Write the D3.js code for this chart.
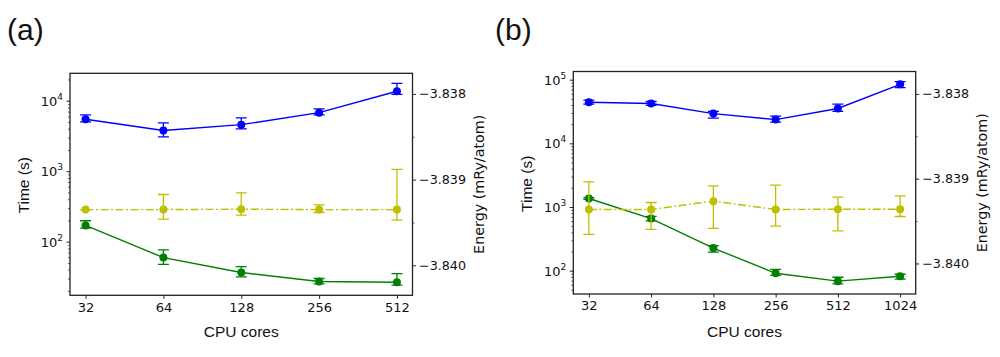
<!DOCTYPE html>
<html>
<head>
<meta charset="utf-8">
<script src="https://cdn.jsdelivr.net/npm/d3@7"></script>
<style>
html,body{margin:0;padding:0;background:#fff;}
svg{display:block;}
</style>
</head>
<body>
<svg id="chart" width="1000" height="357"></svg>
<script>
// ---------- data: panel (a) ----------
const coresA = [32, 64, 128, 256, 512];
const blueA = [5460, 3770, 4570, 6770, 13600];
const blueLowA = [5000, 3060, 3980, 6290, 12300];
const blueHighA = [6290, 4840, 5690, 7640, 17600];
const greenA = [170, 59.4, 36.5, 27.2, 26.6];
const greenLowA = [156, 47.7, 31.6, 25.2, 24.1];
const greenHighA = [198, 76.4, 44.3, 30.0, 35.2];
const energyA = [-3.83935, -3.83935, -3.839346, -3.83935, -3.83935];
const energyLowA = [-3.83935, -3.839462, -3.839415, -3.839384, -3.839474];
const energyHighA = [-3.83935, -3.839174, -3.839155, -3.839295, -3.838882];
const energyDomainA = [-3.84035, -3.83776];

// ---------- data: panel (b) ----------
const coresB = [32, 64, 128, 256, 512, 1024];
const blueB = [44300, 42300, 29300, 23600, 35300, 84500];
const blueLowB = [41200, 39400, 24900, 21600, 31800, 75000];
const blueHighB = [47700, 45400, 31800, 26800, 41200, 93200];
const greenB = [1360, 658, 226, 91, 68.4, 81.8];
const greenLowB = [1320, 605, 196, 84.5, 62, 73.4];
const greenHighB = [1400, 714, 247, 105, 78.8, 87.9];
const energyB = [-3.839363, -3.839363, -3.839265, -3.839363, -3.83936, -3.83936];
const energyLowB = [-3.839658, -3.839599, -3.839587, -3.83956, -3.839616, -3.839446];
const energyHighB = [-3.839038, -3.839281, -3.839085, -3.839077, -3.839218, -3.839203];
const energyDomainB = [-3.84036, -3.837736];

// ---------- tick labels ----------
const timeTicksA = [100, 1000, 10000];
const timeTicksB = [100, 1000, 10000, 100000];
const energyTicks = [-3.838, -3.839, -3.840];
const energyMinorTicks = [-3.8385, -3.8395];
const xLabel = "CPU cores";
const yLabelLeft = "Time (s)";
const yLabelRight = "Energy (mRy/atom)";
const panelTags = ["(a)", "(b)"];

const COL_BLUE = "#0000ff", COL_GREEN = "#008000", COL_YEL = "#bfbf00";
const TICKFONT = "'DejaVu Sans', sans-serif";
const LABFONT = "'Liberation Sans', Arial, sans-serif";

const svg = d3.select("#chart");

function drawPanel(cfg) {
  const {box, cores, blue, blueLow, blueHigh, green, greenLow, greenHigh,
         energy, energyLow, energyHigh, energyDomain, timeTicks, tag, tagX} = cfg;
  const g = svg.append("g");

  // x: log2 with 5% margins (matplotlib autoscale)
  const lx0 = Math.log2(d3.min(cores)), lx1 = Math.log2(d3.max(cores));
  const mx = 0.05 * (lx1 - lx0);
  const x = d3.scaleLog().base(2)
    .domain([Math.pow(2, lx0 - mx), Math.pow(2, lx1 + mx)])
    .range([box.l, box.r]);

  // y left: log10 with 5% margin including error bars
  const allT = blueLow.concat(blueHigh, greenLow, greenHigh);
  const ly0 = Math.log10(d3.min(allT)), ly1 = Math.log10(d3.max(allT));
  const my = 0.05 * (ly1 - ly0);
  const y = d3.scaleLog()
    .domain([Math.pow(10, ly0 - my), Math.pow(10, ly1 + my)])
    .range([box.b, box.t]);

  const yE = d3.scaleLinear().domain(energyDomain).range([box.b, box.t]);

  // clip
  const cid = "clip" + tag.replace(/\W/g, "");
  g.append("clipPath").attr("id", cid).append("rect")
    .attr("x", box.l).attr("y", box.t).attr("width", box.r - box.l).attr("height", box.b - box.t);
  const plot = g.append("g").attr("clip-path", `url(#${cid})`);

  function series(vals, lo, hi, scale, color, dash) {
    const pts = cores.map((c, i) => ({c, v: vals[i], lo: lo[i], hi: hi[i]}));
    const s = plot.append("g");
    s.append("path").datum(pts)
      .attr("fill", "none").attr("stroke", color).attr("stroke-width", 1.4)
      .attr("stroke-dasharray", dash || null)
      .attr("d", d3.line().x(d => x(d.c)).y(d => scale(d.v)));
    const eb = s.selectAll(".eb").data(pts).join("g")
      .attr("stroke", color).attr("stroke-width", 1.3).attr("fill", "none");
    eb.append("line").attr("x1", d => x(d.c)).attr("x2", d => x(d.c))
      .attr("y1", d => scale(d.lo)).attr("y2", d => scale(d.hi));
    eb.append("line").attr("x1", d => x(d.c) - 5.5).attr("x2", d => x(d.c) + 5.5)
      .attr("y1", d => scale(d.lo)).attr("y2", d => scale(d.lo));
    eb.append("line").attr("x1", d => x(d.c) - 5.5).attr("x2", d => x(d.c) + 5.5)
      .attr("y1", d => scale(d.hi)).attr("y2", d => scale(d.hi));
    s.selectAll("circle").data(pts).join("circle")
      .attr("cx", d => x(d.c)).attr("cy", d => scale(d.v)).attr("r", 4)
      .attr("fill", color);
  }
  series(blue, blueLow, blueHigh, y, COL_BLUE);
  series(green, greenLow, greenHigh, y, COL_GREEN);
  series(energy, energyLow, energyHigh, yE, COL_YEL, "8,2.5,2,2.5");

  // frame
  g.append("rect").attr("x", box.l).attr("y", box.t)
    .attr("width", box.r - box.l).attr("height", box.b - box.t)
    .attr("fill", "none").attr("stroke", "#222").attr("stroke-width", 1.3);

  // x axis
  const xAxis = d3.axisBottom(x).tickValues(cores).tickFormat(d3.format("d"))
    .tickSize(3.5).tickPadding(3.5);
  const gx = g.append("g").attr("transform", `translate(0,${box.b})`).call(xAxis);
  gx.select(".domain").remove();
  gx.selectAll(".tick line").attr("stroke", "#222").attr("stroke-width", 1);
  gx.selectAll(".tick text").attr("font-family", TICKFONT).attr("font-size", 13).attr("fill", "#111");

  // left y axis (log): minor ticks
  const dmn = y.domain();
  const minors = [];
  for (let e = Math.floor(Math.log10(dmn[0])); e <= Math.ceil(Math.log10(dmn[1])); e++) {
    for (let k = 2; k <= 9; k++) {
      const v = k * Math.pow(10, e);
      if (v >= dmn[0] && v <= dmn[1]) minors.push(v);
    }
  }
  const gyMin = g.append("g").attr("transform", `translate(${box.l},0)`)
    .call(d3.axisLeft(y).tickValues(minors).tickSize(2).tickFormat(""));
  gyMin.select(".domain").remove();
  gyMin.selectAll(".tick line").attr("stroke", "#222").attr("stroke-width", 0.7);

  const gy = g.append("g").attr("transform", `translate(${box.l},0)`)
    .call(d3.axisLeft(y).tickValues(timeTicks).tickSize(3.5).tickFormat(""));
  gy.select(".domain").remove();
  gy.selectAll(".tick line").attr("stroke", "#222").attr("stroke-width", 1);
  gy.selectAll(".tick").each(function(d) {
    const t = d3.select(this).append("text")
      .attr("x", -7).attr("y", 4.5).attr("text-anchor", "end")
      .attr("font-family", TICKFONT).attr("font-size", 13).attr("fill", "#111");
    t.append("tspan").text("10");
    t.append("tspan").attr("font-size", 9).attr("dy", -6).text(Math.round(Math.log10(d)));
  });

  // right y axis (energy)
  const gr = g.append("g").attr("transform", `translate(${box.r},0)`)
    .call(d3.axisRight(yE).tickValues(energyTicks).tickSize(3.5).tickPadding(3)
      .tickFormat(d => "\u2212" + Math.abs(d).toFixed(3)));
  gr.select(".domain").remove();
  gr.selectAll(".tick line").attr("stroke", "#222").attr("stroke-width", 1);
  gr.selectAll(".tick text").attr("font-family", TICKFONT).attr("font-size", 12.7).attr("fill", "#111");
  const grm = g.append("g").attr("transform", `translate(${box.r},0)`)
    .call(d3.axisRight(yE).tickValues(energyMinorTicks).tickSize(2).tickFormat(""));
  grm.select(".domain").remove();
  grm.selectAll(".tick line").attr("stroke", "#222").attr("stroke-width", 0.7);

  // labels
  const midY = (box.t + box.b) / 2;
  g.append("text").attr("transform", `translate(${box.l - 41},${midY + 1}) rotate(-90)`)
    .attr("text-anchor", "middle").attr("font-family", LABFONT).attr("font-size", 15.5)
    .attr("fill", "#111").text(yLabelLeft);
  g.append("text").attr("transform", `translate(${box.r + 71.5},${midY}) rotate(-90)`)
    .attr("text-anchor", "middle").attr("font-family", TICKFONT).attr("font-size", 14.3)
    .attr("fill", "#111").text(yLabelRight);
  g.append("text").attr("x", (box.l + box.r) / 2).attr("y", 336.5)
    .attr("text-anchor", "middle").attr("font-family", LABFONT).attr("font-size", 15.5)
    .attr("fill", "#111").text(xLabel);
  g.append("text").attr("x", tagX).attr("y", 39.5)
    .attr("font-family", LABFONT).attr("font-size", 30).attr("fill", "#111").text(tag);
}

drawPanel({
  box: {l: 70, r: 412.5, t: 73.3, b: 295.3},
  cores: coresA, blue: blueA, blueLow: blueLowA, blueHigh: blueHighA,
  green: greenA, greenLow: greenLowA, greenHigh: greenHighA,
  energy: energyA, energyLow: energyLowA, energyHigh: energyHighA,
  energyDomain: energyDomainA, timeTicks: timeTicksA, tag: panelTags[0], tagX: 7
});
drawPanel({
  box: {l: 573.3, r: 915.7, t: 71.5, b: 294},
  cores: coresB, blue: blueB, blueLow: blueLowB, blueHigh: blueHighB,
  green: greenB, greenLow: greenLowB, greenHigh: greenHighB,
  energy: energyB, energyLow: energyLowB, energyHigh: energyHighB,
  energyDomain: energyDomainB, timeTicks: timeTicksB, tag: panelTags[1], tagX: 495
});
</script>
</body>
</html>
